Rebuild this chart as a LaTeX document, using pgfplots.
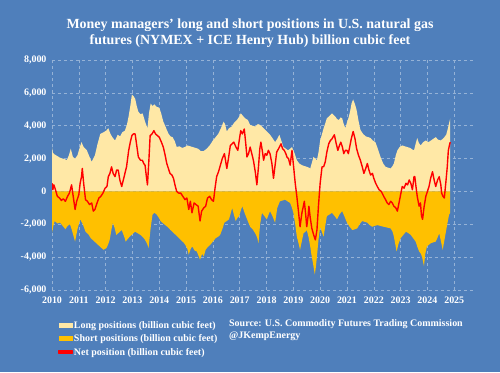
\documentclass[border=0pt]{standalone}
\usepackage{pgfplots}
\pgfplotsset{compat=1.18}
\usepackage{fontspec}
\setmainfont{Liberation Serif}
\definecolor{bgblue}{HTML}{4F7FBB}
\definecolor{longc}{HTML}{FFE8A6}
\definecolor{shortc}{HTML}{FFC000}
\definecolor{netc}{HTML}{FF0000}
\begin{document}
\begin{tikzpicture}[x=1bp,y=1bp]
\fill[bgblue] (0,0) rectangle (500,372);
\node[text=white, font=\bfseries\fontsize{14}{16.5}\selectfont, align=center] at (250,339)
 {Money managers' long and short positions in U.S. natural gas\\futures (NYMEX + ICE Henry Hub) billion cubic feet};
\begin{axis}[
 at={(52bp,82bp)}, anchor=south west, scale only axis,
 width=421bp, height=230bp,
 xmin=2010, xmax=2025.7, ymin=-6000, ymax=8000,
 xtick={2010,2011,...,2025},
 xticklabels={2010,2011,2012,2013,2014,2015,2016,2017,2018,2019,2020,2021,2022,2023,2024,2025},
 ytick={-6000,-4000,...,8000},
 yticklabels={{-6,000},{-4,000},{-2,000},{0},{2,000},{4,000},{6,000},{8,000}},
 axis line style={draw=none}, tick style={draw=none},
 ticklabel style={text=white, font=\bfseries\fontsize{10}{11}\selectfont},
 xticklabel style={yshift=-3bp},
 yticklabel style={xshift=-2bp},
 grid=major,
 major grid style={dashed, white!40!bgblue, line width=0.5pt},
 legend cell align=left,
 legend style={at={(0.014,-0.122)}, anchor=north west, draw=none, fill=none,
   text=white, font=\bfseries\fontsize{10}{13}\selectfont, inner sep=0pt,
   row sep=0bp, nodes={inner sep=0.5pt, text depth=3bp, text height=9.5bp}},
]
\addplot[fill=longc, draw=none,
 legend image code/.code={\fill[longc] (0bp,-2.5bp) rectangle (14bp,2.5bp);}] table {
2010.00 2700
2010.03 2350
2010.10 2250
2010.20 2150
2010.30 2050
2010.40 2000
2010.50 1950
2010.55 1900
2010.63 2200
2010.70 2600
2010.78 2100
2010.86 2000
2010.95 2200
2011.02 2600
2011.10 3000
2011.18 2700
2011.30 2500
2011.40 2100
2011.48 1800
2011.60 2200
2011.70 2900
2011.80 3500
2011.92 3600
2012.02 3700
2012.10 3850
2012.18 3500
2012.25 3300
2012.35 3100
2012.45 3450
2012.54 3350
2012.62 3600
2012.72 3700
2012.80 4100
2012.86 4600
2012.92 5200
2012.98 5900
2013.04 5800
2013.10 5650
2013.16 5200
2013.22 4850
2013.30 4700
2013.38 4750
2013.47 4250
2013.56 3850
2013.62 4800
2013.68 5350
2013.75 5200
2013.82 5300
2013.90 5150
2014.00 5100
2014.08 4700
2014.15 4250
2014.22 4000
2014.28 3750
2014.35 3500
2014.42 3350
2014.50 3300
2014.58 3050
2014.65 2700
2014.75 2750
2014.85 2650
2014.95 2700
2015.05 2800
2015.15 2750
2015.25 2700
2015.35 2650
2015.45 2600
2015.55 2450
2015.65 2450
2015.77 2600
2015.88 2800
2016.00 3100
2016.10 3300
2016.20 3500
2016.30 3850
2016.40 4250
2016.45 4100
2016.52 3650
2016.60 3850
2016.70 3950
2016.80 4200
2016.90 4350
2016.98 4550
2017.04 4750
2017.12 4600
2017.20 4450
2017.30 4350
2017.39 4050
2017.48 4000
2017.58 3950
2017.68 4100
2017.76 4050
2017.86 3900
2017.95 3750
2018.04 3600
2018.13 3450
2018.22 3250
2018.32 3000
2018.40 3200
2018.48 3450
2018.55 3100
2018.63 2700
2018.72 2600
2018.80 2500
2018.88 2600
2018.95 2700
2019.05 2300
2019.13 1900
2019.22 1700
2019.32 1600
2019.40 1550
2019.50 1500
2019.58 1450
2019.63 1400
2019.70 1800
2019.75 2100
2019.82 2000
2019.88 1900
2019.94 2400
2020.00 3100
2020.07 3500
2020.13 3850
2020.20 4200
2020.25 4450
2020.35 4600
2020.44 4750
2020.50 4650
2020.57 4550
2020.63 4400
2020.70 4350
2020.76 4500
2020.82 4450
2020.88 4100
2020.94 3850
2021.00 4200
2021.07 4550
2021.12 4900
2021.17 5350
2021.23 5600
2021.30 5300
2021.36 4950
2021.43 4300
2021.50 3750
2021.60 3500
2021.70 3350
2021.80 3300
2021.88 3250
2021.96 3100
2022.06 3000
2022.15 2600
2022.25 2100
2022.35 1700
2022.44 1500
2022.53 1450
2022.63 1400
2022.70 1550
2022.75 1700
2022.82 2200
2022.88 2500
2022.96 2700
2023.06 2800
2023.15 2750
2023.25 2700
2023.35 2650
2023.44 2550
2023.50 2500
2023.56 2900
2023.62 3250
2023.68 2950
2023.75 2800
2023.84 3000
2023.94 3100
2024.04 3000
2024.13 3100
2024.22 3200
2024.31 3300
2024.40 3150
2024.50 3100
2024.57 3200
2024.63 3300
2024.70 3450
2024.75 3750
2024.80 4100
2024.85 4450
} \closedcycle;
\addlegendentry{Long positions (billion cubic feet)}
\addplot[fill=shortc, draw=none,
 legend image code/.code={\fill[shortc] (0bp,-2.5bp) rectangle (14bp,2.5bp);}] table {
2010.00 -2500
2010.05 -2100
2010.10 -1800
2010.20 -1950
2010.30 -1900
2010.40 -2100
2010.50 -2300
2010.58 -2100
2010.67 -2000
2010.75 -2400
2010.86 -3050
2010.95 -2300
2011.05 -1700
2011.15 -2000
2011.25 -2450
2011.35 -2600
2011.45 -2850
2011.55 -3000
2011.65 -3150
2011.75 -3300
2011.85 -3450
2011.92 -3550
2012.03 -3450
2012.10 -3200
2012.15 -2950
2012.22 -2300
2012.27 -1900
2012.33 -2200
2012.40 -2650
2012.50 -2500
2012.60 -2350
2012.68 -2700
2012.75 -3050
2012.82 -2900
2012.90 -2750
2013.00 -2600
2013.10 -2450
2013.20 -2550
2013.30 -2650
2013.40 -2800
2013.47 -2950
2013.55 -3200
2013.60 -3450
2013.68 -2200
2013.75 -1400
2013.82 -1300
2013.90 -1400
2014.00 -1650
2014.05 -1800
2014.15 -1950
2014.30 -2150
2014.42 -2350
2014.55 -2550
2014.68 -2750
2014.80 -2950
2014.90 -3100
2014.97 -3250
2015.05 -3500
2015.10 -3850
2015.17 -3500
2015.23 -3350
2015.32 -3600
2015.40 -3650
2015.46 -3900
2015.52 -4150
2015.60 -3800
2015.66 -3950
2015.73 -3550
2015.80 -3400
2015.90 -3250
2016.00 -3050
2016.10 -2850
2016.20 -2750
2016.27 -2650
2016.35 -2300
2016.43 -1900
2016.52 -1800
2016.60 -1700
2016.67 -1300
2016.72 -1000
2016.78 -1400
2016.85 -1800
2016.92 -1600
2016.98 -1500
2017.05 -1100
2017.10 -900
2017.18 -1300
2017.30 -1800
2017.39 -2150
2017.48 -2300
2017.58 -2550
2017.65 -2800
2017.70 -3150
2017.76 -2000
2017.83 -1300
2017.92 -1500
2018.01 -1700
2018.08 -1400
2018.13 -1200
2018.22 -1500
2018.32 -1900
2018.40 -1000
2018.50 -600
2018.60 -550
2018.69 -500
2018.78 -600
2018.88 -700
2018.95 -1000
2019.00 -1300
2019.07 -2000
2019.13 -2750
2019.20 -3200
2019.25 -3550
2019.32 -3000
2019.38 -2550
2019.45 -2450
2019.50 -2350
2019.57 -2800
2019.63 -3350
2019.68 -3900
2019.73 -4350
2019.80 -5050
2019.84 -4600
2019.88 -3950
2019.94 -2900
2020.00 -2150
2020.07 -2500
2020.13 -2750
2020.19 -2100
2020.25 -1500
2020.35 -1400
2020.44 -1300
2020.54 -1500
2020.63 -1700
2020.72 -1400
2020.82 -1200
2020.90 -1500
2021.00 -1900
2021.10 -2150
2021.20 -2350
2021.30 -2300
2021.38 -2250
2021.47 -2000
2021.57 -1800
2021.66 -1850
2021.76 -1900
2021.85 -2050
2021.94 -2150
2022.03 -2100
2022.13 -2050
2022.25 -2100
2022.37 -2150
2022.50 -2200
2022.63 -2250
2022.70 -2450
2022.75 -2750
2022.80 -3200
2022.85 -3650
2022.92 -3200
2023.00 -2850
2023.10 -2650
2023.20 -2450
2023.30 -2550
2023.38 -2650
2023.47 -2850
2023.56 -3050
2023.62 -3350
2023.69 -3650
2023.76 -3800
2023.81 -4050
2023.87 -4550
2023.92 -3800
2023.98 -3350
2024.05 -3250
2024.13 -3150
2024.22 -3100
2024.31 -3050
2024.38 -2800
2024.44 -2550
2024.50 -3000
2024.57 -3550
2024.63 -3000
2024.69 -2450
2024.75 -1900
2024.81 -1400
2024.85 -1300
} \closedcycle;
\addlegendentry{Short positions (billion cubic feet)}
\addplot[netc, line width=1.4pt, line join=round,
 legend image code/.code={\fill[netc] (0bp,-1bp) rectangle (14bp,1bp);}] table {
2010.00 500
2010.03 100
2010.07 400
2010.12 150
2010.20 -300
2010.28 -400
2010.35 -550
2010.42 -450
2010.50 -600
2010.58 -300
2010.65 -100
2010.73 400
2010.80 -400
2010.86 -1100
2010.92 -600
2011.00 -200
2011.05 500
2011.10 900
2011.13 1400
2011.18 500
2011.25 -500
2011.32 -600
2011.40 -800
2011.48 -700
2011.54 -1200
2011.60 -1100
2011.68 -700
2011.75 -400
2011.82 -300
2011.90 -100
2011.98 200
2012.05 300
2012.10 900
2012.16 1100
2012.22 1500
2012.28 1100
2012.35 900
2012.41 1300
2012.47 1300
2012.53 700
2012.60 300
2012.66 700
2012.72 1100
2012.78 1500
2012.86 2500
2012.92 3000
2012.98 3400
2013.04 3500
2013.10 3500
2013.16 2800
2013.22 2100
2013.30 1900
2013.37 1900
2013.42 1700
2013.47 1600
2013.52 900
2013.56 400
2013.61 1800
2013.66 3400
2013.73 3500
2013.80 3700
2013.86 3500
2013.93 3400
2014.00 3300
2014.08 3000
2014.15 2700
2014.22 2200
2014.28 1700
2014.34 1400
2014.40 1100
2014.47 1000
2014.53 800
2014.60 300
2014.65 0
2014.72 -100
2014.80 -100
2014.88 -300
2014.96 -500
2015.03 -400
2015.10 -1100
2015.16 -600
2015.22 -1300
2015.30 -700
2015.37 -800
2015.45 -900
2015.52 -1800
2015.58 -1200
2015.66 -1000
2015.73 -900
2015.80 -400
2015.88 -300
2015.95 -500
2016.02 -600
2016.08 200
2016.14 900
2016.21 1200
2016.28 1600
2016.35 2000
2016.43 2300
2016.48 1800
2016.52 1400
2016.58 2000
2016.65 2800
2016.72 2900
2016.78 3000
2016.86 2700
2016.93 2500
2016.99 3200
2017.04 3700
2017.10 3500
2017.17 3800
2017.22 3000
2017.27 2100
2017.33 2300
2017.39 2700
2017.45 2300
2017.51 1900
2017.58 1200
2017.64 400
2017.70 1500
2017.75 2600
2017.79 3000
2017.85 2400
2017.89 1900
2017.95 2300
2018.01 2200
2018.07 2500
2018.13 2300
2018.20 1700
2018.26 800
2018.32 1600
2018.38 2400
2018.45 2600
2018.54 2900
2018.60 2600
2018.66 2500
2018.72 2300
2018.76 2100
2018.82 2000
2018.88 1600
2018.95 2500
2019.01 1500
2019.07 500
2019.13 -300
2019.19 -1200
2019.25 -2150
2019.32 -1300
2019.36 -1000
2019.41 -600
2019.46 -1400
2019.50 -2150
2019.55 -1500
2019.58 -900
2019.63 -1600
2019.69 -2250
2019.75 -2600
2019.82 -2950
2019.88 -2350
2019.94 -800
2020.00 500
2020.07 1500
2020.13 1500
2020.19 1800
2020.25 2400
2020.32 2900
2020.38 3100
2020.44 3200
2020.53 3450
2020.60 2900
2020.66 2500
2020.72 2800
2020.77 3000
2020.83 2700
2020.88 2300
2020.94 2500
2021.00 2500
2021.05 2300
2021.10 2700
2021.16 3200
2021.23 3650
2021.30 3200
2021.36 2600
2021.43 2200
2021.50 1900
2021.57 1500
2021.63 1100
2021.70 1400
2021.76 1700
2021.82 1300
2021.88 1000
2021.95 1100
2022.00 800
2022.07 500
2022.13 300
2022.20 100
2022.28 0
2022.37 -300
2022.44 -500
2022.50 -700
2022.56 -800
2022.63 -600
2022.69 -700
2022.75 -900
2022.82 -1000
2022.88 -1200
2022.94 -700
2023.00 -200
2023.06 300
2023.13 200
2023.20 500
2023.26 400
2023.32 700
2023.38 500
2023.44 100
2023.50 900
2023.53 900
2023.58 200
2023.62 -300
2023.69 -900
2023.74 -700
2023.78 -1500
2023.82 -1700
2023.87 -1000
2023.94 -300
2024.00 0
2024.06 300
2024.12 800
2024.19 1200
2024.25 700
2024.31 300
2024.38 700
2024.44 900
2024.50 400
2024.53 -100
2024.58 -300
2024.63 -400
2024.69 600
2024.74 1500
2024.78 2500
2024.82 2800
2024.85 3000
};
\addlegendentry{Net position (billion cubic feet)}
\end{axis}
\node[anchor=north west, text=white, align=left, font=\bfseries\fontsize{10}{12}\selectfont, inner sep=0pt] at (229,53)
 {Source: U.S. Commodity Futures Trading Commission\\@JKempEnergy};
\pgfresetboundingbox
\useasboundingbox (0,0) rectangle (500,372);
\end{tikzpicture}
\end{document}
